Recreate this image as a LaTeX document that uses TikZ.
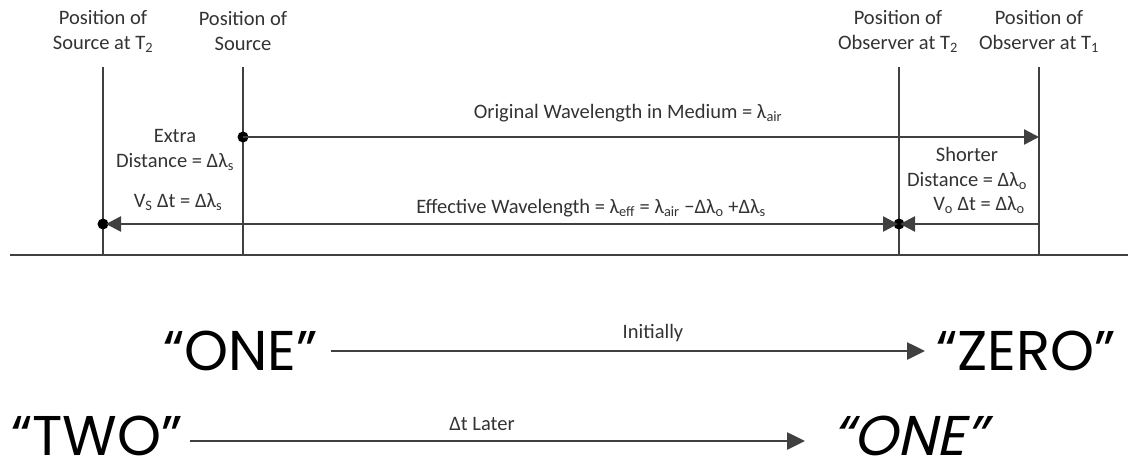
\documentclass[tikz,border=0pt]{standalone}
\usepackage{fontspec}
\setmainfont{Carlito}
\newfontfamily\bigfont{Poppins}
\newfontfamily\bigslant[FakeSlant=0.22]{Poppins}
\usetikzlibrary{arrows.meta}
\definecolor{ln}{HTML}{404040}
\definecolor{tx}{HTML}{333333}
\begin{document}
\begin{tikzpicture}[x=1pt,y=-1pt,
  lbl/.style={font=\fontsize{20.5}{25}\selectfont, text=tx, align=center, inner sep=0pt},
  big/.style={font=\bigfont\fontsize{56}{60}\selectfont, text=black, inner sep=0pt, text depth=0pt},
  bigs/.style={font=\bigslant\fontsize{56}{60}\selectfont, text=black, inner sep=0pt, text depth=0pt},
  pole/.style={draw=ln, line width=2.4pt},
  arr/.style={draw=ln, line width=2.4pt, -{Triangle[length=15pt,width=15pt]}},
  dbl/.style={draw=ln, line width=2.4pt, {Triangle[length=15pt,width=15pt]}-{Triangle[length=15pt,width=15pt]}},
  dot/.style={circle, fill=black, inner sep=0pt, minimum size=11pt}
]
\useasboundingbox (0,0) rectangle (1128,464);

% ground
\coordinate (g0) at (10,255);
\coordinate (g1) at (1128,255);
\draw[draw=ln, line width=2.6pt] (g0) -- (g1);

% poles
\foreach \n/\x in {st2/103, s/243, ot2/899, ot1/1039}{
  \coordinate (\n top) at (\x,67);
  \coordinate (\n bot) at (\x,255);
  \draw[pole] (\n top) -- (\n bot);
}

% top labels
\node[lbl] (Lst2) at (103,31) {Position of\\Source at T\textsubscript{2}};
\node[lbl] (Ls) at (243,31) {Position of\\Source};
\node[lbl] (Lot2) at (898,31) {Position of\\Observer at T\textsubscript{2}};
\node[lbl] (Lot1) at (1039,31) {Position of\\Observer at T\textsubscript{1}};

% dots
\node[dot] (dsrc) at (243,137) {};
\node[dot] (dst2) at (103,224) {};
\node[dot] (dot2) at (899,224) {};
\coordinate (otop) at (1039,137);
\coordinate (obot) at (1039,224);

% arrows
\draw[arr] (dsrc.center) -- (otop);
\draw[dbl] ([xshift=3pt]dst2.center) -- ([xshift=-1pt]dot2.center);
\draw[arr] (obot) -- ([xshift=1pt]dot2.center);

% labels
\node[lbl] (orig) at (628,113) {Original Wavelength in Medium = λ\textsubscript{air}};
\node[lbl] (extra) at (175,150) {Extra\\Distance = Δλ\textsubscript{s}};
\node[lbl] (vs) at (178,202) {V\textsubscript{S} Δt = Δλ\textsubscript{s}};
\node[lbl] (eff) at (591,208) {Effective Wavelength = λ\textsubscript{eff} = λ\textsubscript{air} −Δλ\textsubscript{o} +Δλ\textsubscript{s}};
\node[lbl] (short) at (967,168) {Shorter\\Distance = Δλ\textsubscript{o}};
\node[lbl] (vo) at (979,205) {V\textsubscript{o} Δt = Δλ\textsubscript{o}};

% bottom rows
\node[big, anchor=base east] (one1) at (318,370) {“ONE”};
\node[big, anchor=base west] (zero) at (936,370) {“ZERO”};
\draw[arr, line width=2.6pt, -{Triangle[length=18pt,width=17pt]}] (331,351) -- (925,351);
\node[lbl] (init) at (653,333) {Initially};

\node[big, anchor=base east] (two) at (183,455) {“TWO”};
\node[bigs, anchor=base west] (one2) at (832,455) {“ONE”};
\draw[arr, line width=2.6pt, -{Triangle[length=18pt,width=17pt]}] (190,441) -- (805,441);
\node[lbl] (later) at (482,424) {Δt Later};
\end{tikzpicture}
\end{document}
